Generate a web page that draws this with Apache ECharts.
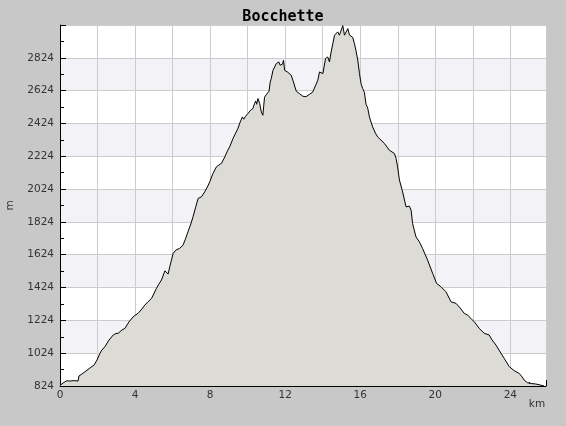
<!DOCTYPE html>
<html>
<head>
<meta charset="utf-8">
<script src="https://cdn.jsdelivr.net/npm/echarts@6/dist/echarts.min.js"></script>
<style>
html,body{margin:0;padding:0;background:#c8c8c8;}
#c{width:566px;height:426px;}
</style>
</head>
<body>
<div id="c"></div>
<script>
const titleText = 'Bocchette';
const distKm = [0.00,0.16,0.36,0.53,0.74,0.96,1.01,1.17,1.33,1.60,1.82,1.97,2.13,2.23,2.39,2.61,2.84,2.98,3.10,3.30,3.46,3.67,3.90,4.16,4.36,4.52,4.68,4.88,5.14,5.27,5.41,5.59,5.69,5.76,5.85,5.94,6.03,6.17,6.38,6.56,6.70,6.82,6.97,7.09,7.23,7.36,7.54,7.71,7.85,7.98,8.15,8.34,8.46,8.60,8.78,8.94,9.04,9.22,9.36,9.48,9.60,9.72,9.79,9.89,10.02,10.16,10.28,10.37,10.43,10.48,10.55,10.64,10.73,10.81,10.90,11.01,11.08,11.14,11.20,11.26,11.35,11.53,11.66,11.73,11.79,11.86,11.91,11.97,12.06,12.14,12.32,12.41,12.59,12.77,12.94,13.11,13.30,13.46,13.65,13.74,13.83,13.92,14.01,14.15,14.27,14.36,14.45,14.54,14.63,14.72,14.80,14.89,14.97,15.07,15.16,15.24,15.34,15.43,15.52,15.60,15.69,15.77,15.87,15.96,16.05,16.13,16.22,16.31,16.40,16.49,16.66,16.81,16.93,17.02,17.29,17.55,17.82,17.91,17.99,18.09,18.26,18.44,18.54,18.62,18.71,18.79,18.97,19.15,19.32,19.59,19.86,20.07,20.30,20.57,20.84,21.10,21.33,21.54,21.72,21.90,22.13,22.34,22.61,22.87,23.03,23.23,23.46,23.67,23.94,24.20,24.47,24.63,24.73,24.91,25.11,25.36,25.59,25.80];
const elevM = [827,842,856,854,857,854,885,897,911,934,952,982,1023,1043,1063,1104,1135,1144,1145,1165,1175,1214,1246,1267,1293,1317,1336,1358,1419,1445,1470,1526,1518,1506,1551,1591,1632,1652,1663,1683,1725,1764,1811,1855,1914,1967,1977,2007,2036,2068,2119,2160,2170,2180,2220,2261,2281,2332,2365,2393,2432,2464,2450,2468,2485,2505,2515,2547,2561,2541,2576,2546,2494,2474,2584,2602,2607,2621,2675,2698,2748,2789,2799,2779,2769,2785,2809,2748,2748,2736,2718,2688,2621,2605,2590,2587,2602,2614,2663,2688,2738,2748,2728,2820,2829,2799,2860,2911,2962,2972,2982,2962,2974,3020,2962,2974,3002,2962,2951,2949,2911,2870,2809,2728,2663,2637,2614,2541,2517,2464,2403,2365,2342,2332,2302,2261,2241,2211,2160,2079,2007,1916,1920,1920,1896,1815,1733,1703,1663,1591,1510,1449,1429,1398,1337,1328,1299,1267,1256,1236,1208,1175,1145,1135,1104,1074,1031,993,942,918,901,879,861,844,839,836,830,824];
const yTickLabels = [824,1024,1224,1424,1624,1824,2024,2224,2424,2624,2824];
const xTickLabels = [0,4,8,12,16,20,24];
const yMin = 824, yMax = 3024, yStep = 200;
const xMin = 0, xMax = 25.9, xStep = 2;

const chart = echarts.init(document.getElementById('c'), null, {renderer:'canvas'});
const seriesData = distKm.map((d,i)=>[d, elevM[i]-yMin]);
const labelFont = {fontFamily:'DejaVu Sans', fontSize:10.5, color:'#333'};
chart.setOption({
  backgroundColor:'#c8c8c8',
  animation:false,
  title:{text:titleText, left:'center', top:5,
    textStyle:{fontFamily:'DejaVu Sans Mono', fontWeight:'bold', fontSize:15, color:'#000'}},
  grid:{left:60, right:20, top:25, bottom:40, show:true, backgroundColor:'#ffffff', borderWidth:0,
    containLabel:false, outerBoundsMode:'none'},
  xAxis:{type:'value', min:xMin, max:xMax, interval:xStep,
    name:'km', nameLocation:'end', nameGap:-9,
    nameTextStyle:Object.assign({}, labelFont, {align:'center', verticalAlign:'top', padding:[13,0,0,0]}),
    axisLine:{show:true, onZero:false, lineStyle:{color:'#000', width:1}},
    axisTick:{show:true, inside:true, length:6, lineStyle:{color:'#000'}},
    minorTick:{show:true, splitNumber:2, length:4, lineStyle:{color:'#000'}},
    axisLabel:Object.assign({}, labelFont, {margin:4, showMaxLabel:false,
      formatter:v=> xTickLabels.indexOf(Math.round(v*100)/100)>=0 ? String(v) : ''}),
    splitLine:{show:true, lineStyle:{color:'#cccccc', width:1}},
    minorSplitLine:{show:false}
  },
  yAxis:{type:'value', min:0, max:yMax-yMin, interval:yStep,
    name:'m', nameLocation:'middle', nameRotate:90, nameGap:44,
    nameTextStyle:labelFont,
    axisLine:{show:true, lineStyle:{color:'#000', width:1}},
    axisTick:{show:true, inside:true, length:6, lineStyle:{color:'#000'}},
    minorTick:{show:true, splitNumber:2, length:4, lineStyle:{color:'#000'}},
    axisLabel:Object.assign({}, labelFont, {margin:6, showMaxLabel:false,
      formatter:v=>{ const t = v + yMin; return yTickLabels.indexOf(t)>=0 ? String(t) : ''; }}),
    splitLine:{show:true, lineStyle:{color:'#cccccc', width:1}},
    splitArea:{show:true, areaStyle:{color:['#ffffff','#f3f2f6']}}
  },
  series:[{type:'line', data:seriesData, showSymbol:false, symbol:'none', smooth:false,
    lineStyle:{color:'#000', width:1}, areaStyle:{color:'#dcdbd5', opacity:1, origin:'start'},
    itemStyle:{color:'#000'}}]
});
</script>
</body>
</html>
